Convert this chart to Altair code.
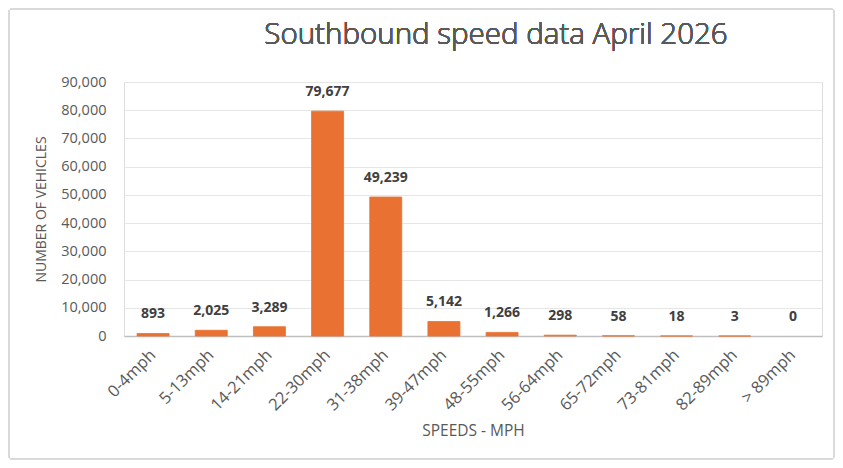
import altair as alt
import pandas as pd

categories = ["0-4mph", "5-13mph", "14-21mph", "22-30mph", "31-38mph", "39-47mph",
              "48-55mph", "56-64mph", "65-72mph", "73-81mph", "82-89mph", "> 89mph"]
vehicles = [893, 2025, 3289, 79677, 49239, 5142, 1266, 298, 58, 18, 3, 0]
title_text = "Southbound speed data April  2026"

df = pd.DataFrame({"speed": categories, "count": vehicles})

W, H = 698, 254
FONT = "Open Sans"

x = alt.X("speed:N", sort=categories, title="SPEEDS - MPH",
          scale=alt.Scale(paddingInner=0.45, paddingOuter=0.225),
          axis=alt.Axis(labelAngle=-45, labelAlign="right", labelBaseline="middle",
                        labelPadding=16, ticks=False, domainColor="#bfbfbf", domainWidth=1.5,
                        labelColor="#595959", labelFontSize=16.5, labelFont=FONT,
                        titleColor="#595959", titleFontSize=15.5, titleFont=FONT,
                        titleFontWeight="normal", titlePadding=10))
y = alt.Y("count:Q", title="NUMBER OF VEHICLES",
          scale=alt.Scale(domain=[0, 90000]),
          axis=alt.Axis(values=list(range(0, 90001, 10000)), format=",.0f", ticks=False,
                        domain=False, gridColor="#e6e6e6", labelPadding=18,
                        labelOverlap=False,
                        labelColor="#595959", labelFontSize=14.5, labelFont=FONT,
                        titleColor="#595959", titleFontSize=14, titleFont=FONT,
                        titleFontWeight="normal", titlePadding=12))

bars = alt.Chart(df).mark_bar(color="#E97132", stroke="#E97132").encode(
    x=x, y=y,
    strokeWidth=alt.condition("datum.count > 0", alt.value(0.8), alt.value(0)))
labels = alt.Chart(df).mark_text(dy=-12, baseline="bottom", fontWeight="bold",
                                 fontSize=14, font=FONT, color="#404040").encode(
    x=x, y=y, text=alt.Text("count:Q", format=","))

border = alt.Chart(df).mark_rect(fill=None, stroke="#d9d9d9", strokeWidth=1,
                                 cornerRadius=3).encode(
    x=alt.value(-115), x2=alt.value(W + 12), y=alt.value(-73), y2=alt.value(H + 123))

title = alt.Chart(df).mark_text(font=FONT, fontSize=29.5, fontWeight=300, color="#595959",
                                align="center", baseline="middle").encode(
    x=alt.value(372), y=alt.value(-47), text=alt.value(title_text))

chart = alt.layer(border, bars, labels, title).properties(
    width=W, height=H,
    autosize=alt.AutoSizeParams(type="none"),
    padding={"left": 116, "top": 74, "right": 13, "bottom": 124},
).configure_view(stroke=None).configure(background="white")

chart.save("out.html", embed_options={"renderer": "svg", "actions": False})
